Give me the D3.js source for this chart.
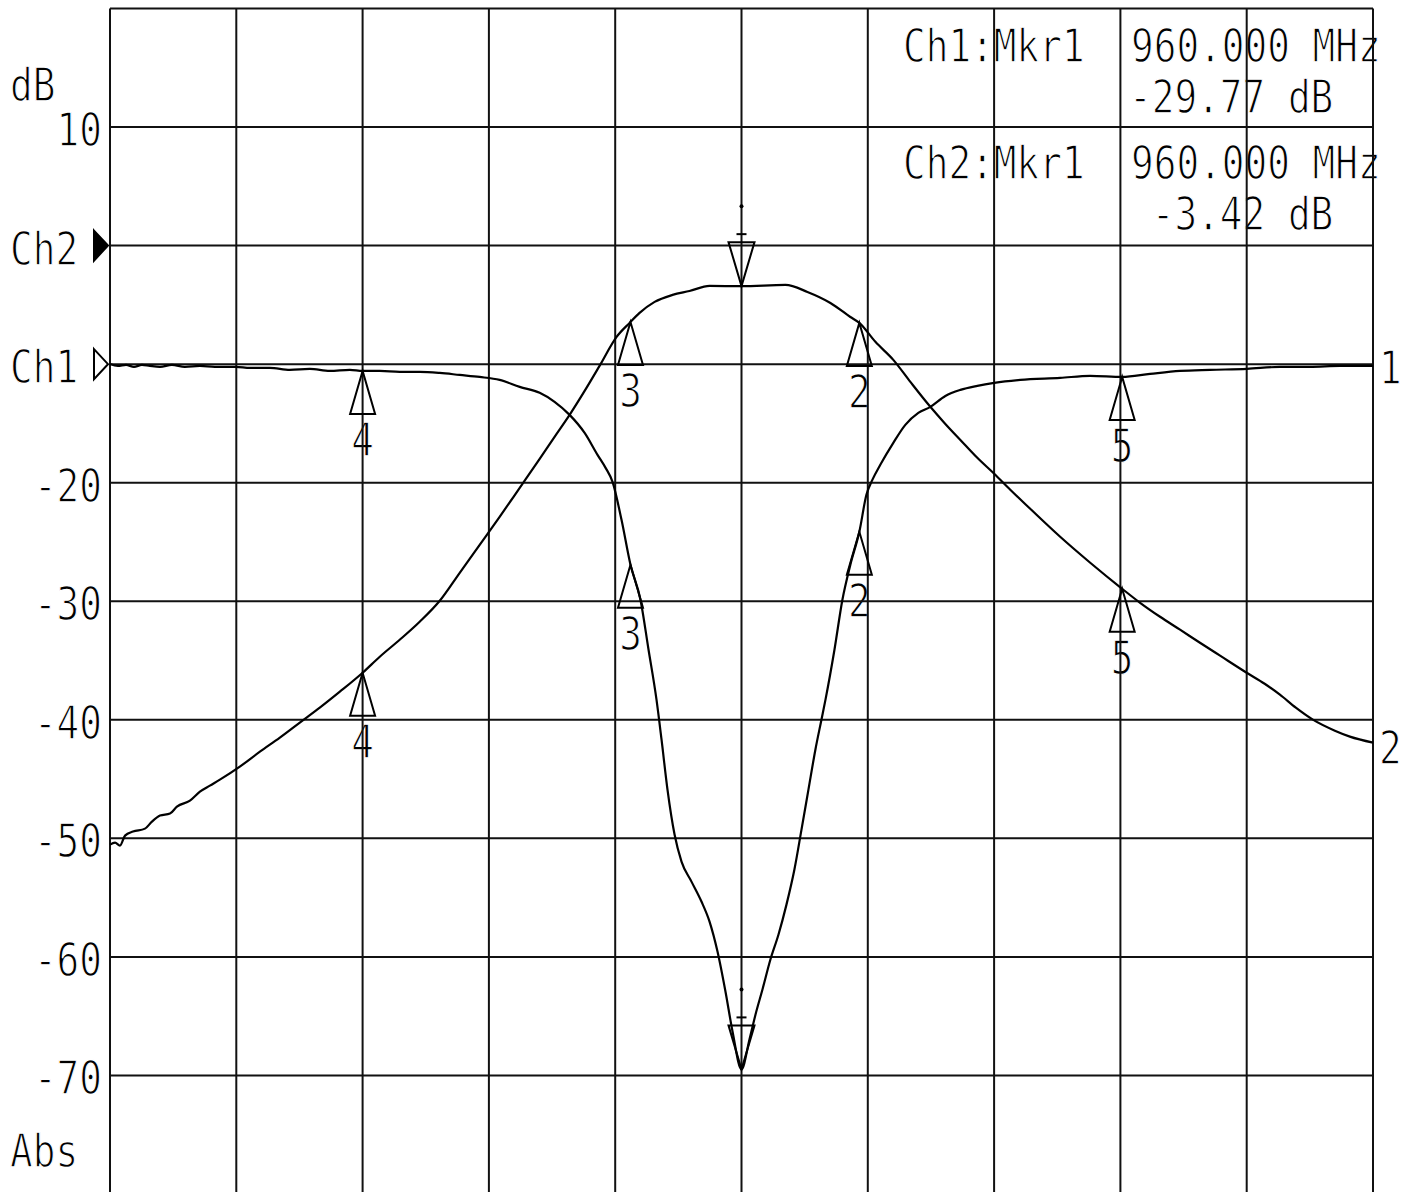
<!DOCTYPE html>
<html><head><meta charset="utf-8">
<script src="https://cdn.jsdelivr.net/npm/d3@7"></script>
<style>
html,body{margin:0;padding:0;background:#fff;overflow:hidden;}
text{font-family:"DejaVu Sans Mono",monospace;fill:#000;stroke:#fff;stroke-width:1.3px;paint-order:fill stroke;}
</style></head><body>
<svg id="chart" width="1412" height="1192"></svg>
<script>
// ---------------- data ----------------
const freqStart = 910, freqStop = 1010;          // MHz, 10 divisions
const dbTop = 20, dbBottom = -80;                 // left-axis scale, 10 dB/div
const gridFreqs = [910,920,930,940,950,960,970,980,990,1000,1010];
const gridDb = [20,10,0,-10,-20,-30,-40,-50,-60,-70,-80];
const tickValues = [10,-20,-30,-40,-50,-60,-70];
const tickLabels = ["10","-20","-30","-40","-50","-60","-70"];
const refNames = ["Ch2","Ch1"];
const refLevels = [0,-10];
const refFilled = [true,false];

const ch1Freq = [910.00,910.63,911.27,911.90,912.53,913.16,913.96,914.90,915.93,917.12,918.31,919.97,921.08,922.66,924.24,925.82,927.40,928.99,930.00,931.36,932.94,934.52,936.11,937.69,939.27,940.85,942.44,944.02,945.20,946.39,947.58,948.60,949.24,949.79,950.50,951.21,952.00,952.64,953.27,953.67,954.14,954.70,955.25,956.04,956.83,957.47,958.10,958.73,959.29,960.00,960.63,961.11,961.66,962.29,962.93,963.56,964.19,964.75,965.30,965.85,966.33,966.65,967.36,967.99,968.62,969.33,969.89,970.36,970.99,972.02,972.97,974.00,974.95,976.14,977.33,978.67,980.01,982.07,985.23,987.61,990.14,992.35,994.72,997.10,1000.02,1002.63,1005.00,1007.38,1010.00];
const ch1Db = [-9.98,-10.15,-10.06,-10.23,-10.06,-10.15,-10.23,-10.06,-10.23,-10.15,-10.23,-10.23,-10.32,-10.32,-10.48,-10.40,-10.57,-10.48,-10.57,-10.57,-10.65,-10.65,-10.74,-10.91,-11.08,-11.33,-11.92,-12.42,-13.18,-14.28,-15.80,-17.65,-18.75,-19.93,-23.13,-26.92,-29.87,-34.09,-38.30,-41.68,-45.89,-49.68,-51.96,-53.65,-55.33,-57.02,-59.55,-62.92,-66.29,-69.49,-66.97,-64.86,-62.75,-60.22,-58.11,-55.59,-52.63,-49.26,-45.89,-42.52,-39.99,-38.30,-34.09,-29.87,-26.92,-24.14,-21.02,-19.76,-18.49,-16.64,-15.12,-14.11,-13.60,-12.68,-12.17,-11.83,-11.58,-11.33,-11.16,-10.99,-11.08,-10.82,-10.57,-10.48,-10.40,-10.23,-10.23,-10.15,-10.15];

const ch2Freq = [910.00,910.40,910.79,911.19,911.82,912.77,913.32,913.96,914.75,915.30,916.33,917.12,917.91,918.70,920.28,921.87,923.45,925.03,926.61,928.20,930.00,931.36,932.94,934.52,936.11,937.69,939.27,940.85,942.44,944.02,945.20,946.39,947.58,948.76,950.11,951.14,951.93,953.12,954.54,955.88,957.47,960.00,963.48,965.22,967.04,968.62,969.33,970.60,972.02,973.37,974.95,976.14,977.33,978.67,980.01,981.28,982.86,985.23,987.61,990.14,991.56,993.14,994.72,996.30,997.89,1000.00,1001.42,1002.63,1003.89,1005.24,1006.98,1008.17,1010.00];
const ch2Db = [-50.53,-50.36,-50.61,-49.77,-49.43,-49.18,-48.59,-48.08,-47.91,-47.32,-46.82,-46.06,-45.55,-45.05,-43.95,-42.69,-41.51,-40.24,-38.98,-37.63,-36.03,-34.68,-33.25,-31.73,-29.96,-27.60,-25.24,-22.88,-20.43,-17.99,-16.13,-14.28,-12.26,-10.15,-7.70,-6.52,-5.68,-4.75,-4.16,-3.83,-3.40,-3.42,-3.32,-3.91,-4.84,-6.02,-6.52,-8.12,-9.64,-11.50,-13.60,-15.04,-16.39,-17.90,-19.25,-20.60,-22.20,-24.56,-26.75,-28.95,-30.13,-31.31,-32.40,-33.50,-34.59,-36.03,-36.96,-37.88,-38.98,-39.99,-40.92,-41.42,-41.93];

const markerNames = ["1","2","3","4","5"];
const markerFreqs = [960.00,969.33,951.21,930.00,990.14];
const traceNames = ["1","2"];

const readoutChan = ["Ch1:Mkr1","Ch2:Mkr1"];
const readoutFreq = ["960.000 MHz","960.000 MHz"];
const readoutVal = ["-29.77 dB"," -3.42 dB"];

// ---------------- drawing ----------------
const svg = d3.select("#chart");
const x = d3.scaleLinear().domain([freqStart,freqStop]).range([110,1373]);
const y = d3.scaleLinear().domain([dbTop,dbBottom]).range([8.5,1194]);
const FS = 46, SX = 0.82;

function label(g, px, py, str, anchor){
  const t = g.append("g").attr("transform",`translate(${px},${py}) scale(${SX},1)`);
  t.append("text").attr("x",0).attr("y",0).attr("font-size",FS)
    .attr("text-anchor",anchor||"start").attr("xml:space","preserve").text(str);
  return t;
}
function interp(tr,f){
  const fs = tr.map(d=>d[0]);
  const j = Math.max(1, Math.min(tr.length-1, d3.bisectLeft(fs,f)));
  const a = tr[j-1], b = tr[j];
  const t = (f-a[0])/(b[0]-a[0]);
  return a[1]+t*(b[1]-a[1]);
}

svg.append("rect").attr("width",1412).attr("height",1192).attr("fill","#fff");

const traces = [d3.zip(ch1Freq,ch1Db), d3.zip(ch2Freq,ch2Db)];

// ---- text layer (drawn first, lines pass over it) ----
const lab = svg.append("g");
label(lab, 10, 101, "dB");
tickValues.forEach((v,i)=>label(lab, 102, y(v)+19, tickLabels[i], "end"));
refNames.forEach((n,i)=>label(lab, 10, y(refLevels[i])+19, n));
label(lab, 10, 1167, "Abs");
traces.forEach((tr,i)=>{
  const last = tr[tr.length-1];
  label(lab, x(last[0])+6, y(last[1])+(i===0?18:21), traceNames[i]);
});
traces.forEach(tr=>{
  markerFreqs.forEach((f,k)=>{
    if(k===0) return;
    label(lab, x(f), y(interp(tr,f))+85, markerNames[k], "middle");
  });
});
readoutChan.forEach((s,i)=>{
  const b = 62 + i*117;
  label(lab, 903, b, s);
  label(lab, 1131, b, readoutFreq[i]);
  label(lab, 1129, b+51, readoutVal[i]);
});

// ---- grid ----
const grid = svg.append("g").attr("stroke","#111").attr("stroke-width",2);
grid.selectAll("line.v").data(gridFreqs).join("line")
  .attr("x1",d=>x(d)).attr("x2",d=>x(d)).attr("y1",y(dbTop)).attr("y2",y(dbBottom));
grid.selectAll("line.h").data(gridDb).join("line")
  .attr("x1",x(freqStart)).attr("x2",x(freqStop)).attr("y1",d=>y(d)).attr("y2",d=>y(d));

// reference level arrows
refLevels.forEach((lv,i)=>{
  const yy = y(lv);
  svg.append("path")
    .attr("d",`M${x(freqStart)-16},${yy-15} L${x(freqStart)-2},${yy} L${x(freqStart)-16},${yy+15} Z`)
    .attr("fill",refFilled[i]?"#000":"#fff").attr("stroke","#000").attr("stroke-width",2);
});

// ---- traces ----
const line = d3.line().x(d=>x(d[0])).y(d=>y(d[1])).curve(d3.curveMonotoneX);
traces.forEach(tr=>{
  svg.append("path").datum(tr).attr("d",line).attr("fill","none")
    .attr("stroke","#000").attr("stroke-width",2.2).attr("stroke-linejoin","round");
});

// ---- markers ----
const mk = svg.append("g");
traces.forEach(tr=>{
  markerFreqs.forEach((f,k)=>{
    const px = x(f), py = y(interp(tr,f));
    if(k===0){
      const base = py-44;
      mk.append("path").attr("d",`M${px},${py} L${px-13},${base} L${px+13},${base} Z`)
        .attr("fill","none").attr("stroke","#000").attr("stroke-width",2);
      mk.append("line").attr("x1",px-5).attr("x2",px+5).attr("y1",base-8).attr("y2",base-8)
        .attr("stroke","#000").attr("stroke-width",2);
      mk.append("circle").attr("cx",px).attr("cy",base-36).attr("r",2).attr("fill","#000");
    } else {
      const base = py+43;
      mk.append("path").attr("d",`M${px},${py} L${px-12.5},${base} L${px+12.5},${base} Z`)
        .attr("fill","none").attr("stroke","#000").attr("stroke-width",2);
    }
  });
});
</script>
</body></html>
